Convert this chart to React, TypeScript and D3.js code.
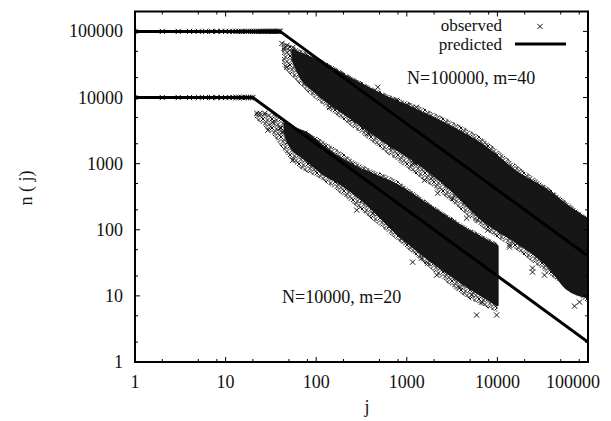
import React from "react";
import * as d3 from "d3";

// ---- data ----
const xTicks = [1, 10, 100, 1000, 10000, 100000];
const yTicks = [1, 10, 100, 1000, 10000, 100000];
const xMinor = [2, 5, 8];
const yMinor = [2, 5];

// predicted model lines
const upperPredJ = [1, 40, 100000];
const upperPredN = [100000, 100000, 40];
const lowerPredJ = [1, 20, 100000];
const lowerPredN = [10000, 10000, 2];

// plateau observations (n(j) = N for j <= m)
const upperPlateauJ = [1,2,3,4,5,6,7,8,9,10,11,12,13,14,15,16,17,18,19,20,21,22,23,24,25,26,27,28,29,30,31,32,33,34,35,36,37,38,39,40];
const upperPlateauN = 100000;
const lowerPlateauJ = [1,2,3,4,5,6,7,8,9,10,11,12,13,14,15,16,17,18,19,20];
const lowerPlateauN = 10000;

// dense core of the observed clouds (upper / lower edge)
const upperCloudJ = [55, 66, 102, 235, 542, 1285, 2970, 6870, 16300, 37600, 57900, 100000];
const upperCloudHi = [52000, 46500, 36500, 19500, 10800, 6410, 3670, 1900, 741, 370, 235, 140];
const upperCloudLo = [38000, 21650, 11570, 5020, 2260, 1050, 425, 140, 65, 27, 13, 9.6];

const lowerCloudJ = [45, 51, 79, 118, 182, 326, 774, 1790, 4130, 10000];
const lowerCloudHi = [4000, 3550, 2880, 1830, 1210, 795, 472, 227, 109, 56];
const lowerCloudLo = [3000, 1900, 1125, 716, 506, 280, 89, 35, 15.6, 7.3];

// sparser fringe of the clouds (outer edge of the scattered markers)
const upperFringeJ = [42, 102, 235, 542, 1285, 2970, 6870, 16300, 37600, 100000];
const upperFringeHi = [70000, 40500, 21600, 12000, 7620, 4530, 2420, 946, 425, 150];
const upperFringeLo = [30000, 9080, 3800, 1593, 668, 280, 106, 49, 20.6, 7.8];

const lowerFringeJ = [21, 33, 55, 118, 326, 774, 1790, 4130, 10000];
const lowerFringeHi = [6000, 5770, 3800, 2260, 946, 561, 252, 122, 63];
const lowerFringeLo = [4800, 2690, 1050, 561, 185, 70, 26.3, 10.3, 5.7];

// isolated observed points around the clouds
const upperSparseJ = [41.8, 44, 47.4, 51, 55.2, 47.4, 59.6, 69.4, 141, 82.8, 247, 343, 682, 1160, 1930, 2190, 280, 371, 478, 774, 1280, 3830, 390, 998, 3640, 1220, 1570, 3210, 4570, 6050, 7800, 13600, 13600, 24400, 24400, 33100, 71000, 80600, 10600, 16700];
const upperSparseN = [65900, 55400, 61500, 51600, 57300, 28600, 40500, 24000, 7110, 17000, 4690, 3550, 1770, 1014, 623, 357, 4530, 2880, 14300, 9080, 7110, 2980, 2880, 7620, 2880, 1014, 561, 300, 150, 140, 98.6, 58.5, 54.6, 26.3, 22.9, 20.6, 7.0, 8.06, 89, 62.8];
const lowerSparseJ = [22.1, 23.9, 27.1, 33.2, 29.2, 39.7, 41.8, 48.6, 51, 55.2, 74.9, 71.3, 91.6, 131, 169, 280, 326, 421, 648, 879, 1160, 1460, 1700, 2140, 3550, 3830, 5200, 6700, 5900, 9800];
const lowerSparseN = [5770, 5770, 5770, 4220, 3200, 3430, 2980, 2100, 2420, 1125, 2880, 1770, 1014, 668, 561, 198, 280, 178, 117, 74.7, 32.4, 37.3, 31.3, 20.6, 18.6, 13.6, 10.3, 8.06, 5.13, 5.13];

const legendLabels = ["observed", "predicted"];
const annotations = ["N=100000, m=40", "N=10000, m=20"];

// ---- layout / style ----
const W = 611;
const H = 421;
const L = 135;
const R = 588;
const T = 11.5;
const B = 362;
const FONT = "'Liberation Serif', 'Times New Roman', serif";
const INK = "#161616";
const TILE = 9;
const TEXTURE = [
  [2, 2],
  [6.5, 3],
  [4, 6.5],
  [8, 7.5],
];

export default function App() {
  const x = d3.scaleLog().domain([1, 100000]).range([L, R]);
  const y = d3.scaleLog().domain([1, 200000]).range([B, T]);

  const band = (J: number[], hi: number[], lo: number[]) =>
    d3
      .area<number>()
      .x((_, i) => x(J[i]))
      .y0((_, i) => y(lo[i]))
      .y1((_, i) => y(hi[i]))
      .curve(d3.curveMonotoneX)(J.map((_, i) => i)) || "";

  const line = (J: number[], N: number[]) =>
    d3
      .line<number>()
      .x((_, i) => x(J[i]))
      .y((_, i) => y(N[i]))(J.map((_, i) => i)) || "";

  const crossPath = (cx: number, cy: number, s = 2.6) =>
    `M${cx - s},${cy - s}L${cx + s},${cy + s}M${cx - s},${cy + s}L${cx + s},${cy - s}`;

  const marker = (cx: number, cy: number, k: string) => (
    <path key={k} d={crossPath(cx, cy)} stroke={INK} strokeWidth={1} fill="none" />
  );

  let texture = "";
  TEXTURE.forEach(([cx, cy]) => {
    [-TILE, 0, TILE].forEach((dx) =>
      [-TILE, 0, TILE].forEach((dy) => {
        texture += crossPath(cx + dx, cy + dy, 2.4);
      })
    );
  });

  const xMinorVals: number[] = [];
  for (let d = 1; d < 100000; d *= 10) xMinor.forEach((m) => xMinorVals.push(d * m));
  const yMinorVals: number[] = [];
  for (let d = 1; d < 200000; d *= 10)
    yMinor.forEach((m) => {
      if (d * m < 200000) yMinorVals.push(d * m);
    });

  return (
    <svg
      width={W}
      height={H}
      style={{ position: "absolute", left: 0, top: 0, background: "#fff" }}
      fontFamily={FONT}
    >
      <defs>
        <clipPath id="plot">
          <rect x={L} y={T} width={R - L} height={B - T} />
        </clipPath>
        <pattern id="xfill" width={TILE} height={TILE} patternUnits="userSpaceOnUse">
          <rect width={TILE} height={TILE} fill="#fff" />
          <path d={texture} stroke={INK} strokeWidth={1} />
        </pattern>
      </defs>
      <rect width={W} height={H} fill="#fff" />
      <g clipPath="url(#plot)">
        <path d={band(upperFringeJ, upperFringeHi, upperFringeLo)} fill="url(#xfill)" />
        <path d={band(lowerFringeJ, lowerFringeHi, lowerFringeLo)} fill="url(#xfill)" />
        <path d={band(upperCloudJ, upperCloudHi, upperCloudLo)} fill={INK} stroke={INK} strokeWidth={2.5} strokeLinejoin="round" />
        <path d={band(lowerCloudJ, lowerCloudHi, lowerCloudLo)} fill={INK} stroke={INK} strokeWidth={2.5} strokeLinejoin="round" />
        {upperSparseJ.map((j, i) => marker(x(j), y(upperSparseN[i]), "us" + i))}
        {lowerSparseJ.map((j, i) => marker(x(j), y(lowerSparseN[i]), "ls" + i))}
        {upperPlateauJ.map((j, i) => marker(x(j), y(upperPlateauN), "up" + i))}
        {lowerPlateauJ.map((j, i) => marker(x(j), y(lowerPlateauN), "lp" + i))}
        <path d={line(upperPredJ, upperPredN)} stroke="#000" strokeWidth={3} fill="none" />
        <path d={line(lowerPredJ, lowerPredN)} stroke="#000" strokeWidth={3} fill="none" />
      </g>

      {/* ticks */}
      <g stroke="#000" strokeWidth={1}>
        {xTicks.map((t) => (
          <g key={"xt" + t}>
            <line x1={x(t)} x2={x(t)} y1={B} y2={B - 5} />
            <line x1={x(t)} x2={x(t)} y1={T} y2={T + 5} />
          </g>
        ))}
        {xMinorVals.map((t) => (
          <g key={"xm" + t}>
            <line x1={x(t)} x2={x(t)} y1={B} y2={B - 3} />
            <line x1={x(t)} x2={x(t)} y1={T} y2={T + 3} />
          </g>
        ))}
        {yTicks.map((t) => (
          <g key={"yt" + t}>
            <line x1={L} x2={L + 5} y1={y(t)} y2={y(t)} />
            <line x1={R} x2={R - 5} y1={y(t)} y2={y(t)} />
          </g>
        ))}
        {yMinorVals.map((t) => (
          <g key={"ym" + t}>
            <line x1={L} x2={L + 3} y1={y(t)} y2={y(t)} />
            <line x1={R} x2={R - 3} y1={y(t)} y2={y(t)} />
          </g>
        ))}
      </g>
      <rect x={L} y={T} width={R - L} height={B - T} fill="none" stroke="#000" strokeWidth={2} />

      {/* tick labels */}
      <g fontSize={18} fill="#111">
        {xTicks.map((t, i) => (
          <text
            key={"xl" + t}
            x={i === xTicks.length - 1 ? x(t) - 15 : x(t)}
            y={388}
            textAnchor="middle"
          >
            {String(t)}
          </text>
        ))}
        {yTicks.map((t) => (
          <text key={"yl" + t} x={123} y={y(t) + 6} textAnchor="end">
            {String(t)}
          </text>
        ))}
      </g>

      {/* axis titles */}
      <text x={367} y={413} fontSize={18} textAnchor="middle" fill="#111">
        j
      </text>
      <text transform="translate(32,188) rotate(-90)" fontSize={18} textAnchor="middle" fill="#111">
        n ( j)
      </text>

      {/* legend */}
      <text x={502} y={31} fontSize={17} textAnchor="end" fill="#111">
        {legendLabels[0]}
      </text>
      {marker(540, 26.5, "legm")}
      <text x={502} y={49.5} fontSize={17} textAnchor="end" fill="#111">
        {legendLabels[1]}
      </text>
      <line x1={515} x2={566} y1={44} y2={44} stroke="#000" strokeWidth={3} />

      {/* annotations */}
      <text x={407} y={83.5} fontSize={18} fill="#111">
        {annotations[0]}
      </text>
      <text x={282} y={303} fontSize={18} fill="#111">
        {annotations[1]}
      </text>
    </svg>
  );
}
